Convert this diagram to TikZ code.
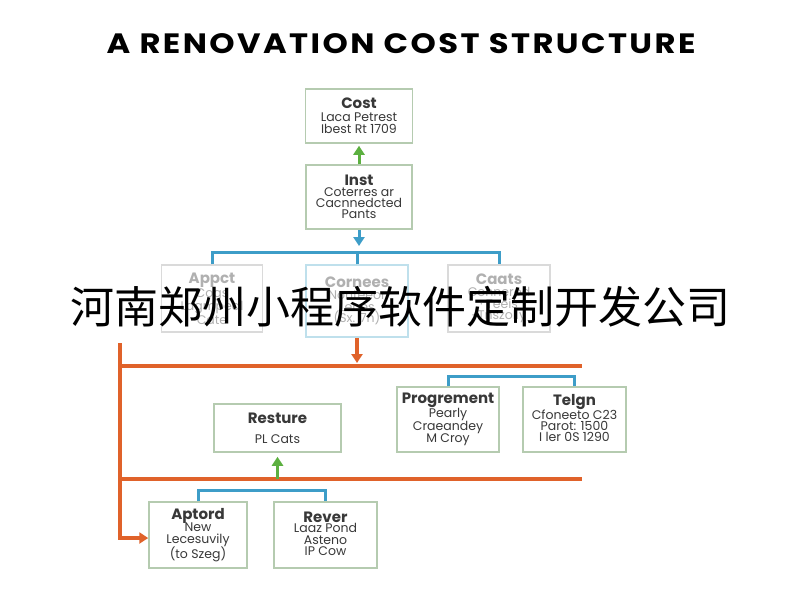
\documentclass[tikz,border=0pt]{standalone}
\usepackage{fontspec}
\setmainfont{Poppins}
\newfontfamily\headfont{Poppins}
\newfontfamily\titlefont[LetterSpace=7.5]{Poppins}
\newfontfamily\cjkfont{Noto Sans CJK SC}
\usetikzlibrary{arrows.meta}
\definecolor{cblue}{HTML}{3D9DC8}
\definecolor{corange}{HTML}{E0622A}
\definecolor{cgreen}{HTML}{5CB040}
\definecolor{cborder}{HTML}{B5CBB0}
\definecolor{cfade}{HTML}{DADADA}
\definecolor{cfadeblue}{HTML}{BFE0EC}
\definecolor{cfadetext}{HTML}{B0B0B0}
\tikzset{
  box/.style={draw=cborder, line width=1.5pt, fill=white, align=center, inner sep=0pt,
    font=\fontsize{12.5}{11.8}\selectfont, text=black!78},
  fadebox/.style={box, draw=cfade, text=cfadetext},
  blueline/.style={draw=cblue, line width=3pt},
  orangeline/.style={draw=corange, line width=3.3pt},
  bluearrow/.style={blueline, -{Triangle[length=9pt,width=11pt]}},
  orangearrow/.style={orangeline, -{Triangle[length=9pt,width=11pt]}},
  greenarrow/.style={draw=cgreen, line width=3pt, -{Triangle[length=9pt,width=11pt]}},
}
\newcommand{\bh}[1]{{\headfont\bfseries\fontsize{15}{15}\selectfont #1}}
\newcommand{\deepln}{\rule[-3pt]{0pt}{3pt}}
\begin{document}
\begin{tikzpicture}[x=1pt,y=-1pt]
\useasboundingbox (0,0) rectangle (800,600);
\fill[white] (0,0) rectangle (800,600);

\node (title) at (401,44) {\scalebox{1.15}[1]{\titlefont\bfseries\fontsize{28}{28}\selectfont A RENOVATION COST STRUCTURE}};

\node[box, minimum width=107pt, minimum height=54pt] (cost) at (359,116)
  {\bh{Cost}\\[1pt] Laca Petrest\\ Ibest Rt 1709};
\node[box, minimum width=106pt, minimum height=64pt] (inst) at (359,197)
  {\bh{Inst}\\[-1pt] Coterres ar\\[-0.5pt] Cacnnedcted\\[-0.5pt] Pants};

\node[fadebox, minimum width=101pt, minimum height=67pt] (appct) at (212,298.5)
  {\textcolor{cfadetext}{\bh{Appct}}\\ Cogs\\ Lagmpeal\\ Cate};
\node[fadebox, draw=cfadeblue, minimum width=102pt, minimum height=72pt] (cornees) at (357,301)
  {\textcolor{cfadetext}{\bh{Cornees}}\\ Nonteeor\\ Lenes\\ (Sx. 7n)};
\node[fadebox, minimum width=102pt, minimum height=67pt] (caats) at (499,298.5)
  {\textcolor{cfadetext}{\bh{Caats}}\\ Connerod\\ · Teeis\\ · Tnszolly};

\node[box, minimum width=127pt, minimum height=48pt] (resture) at (277.5,428)
  {\bh{Resture}\\[8pt] PL Cats};
\node[box, minimum width=102pt, minimum height=65pt] (prog) at (448,419.5)
  {\bh{Progrement}\\[-1pt] Pearly\\[-0.5pt] Craeandey\\[-0.5pt] M Croy};
\node[box, minimum width=103pt, minimum height=65pt] (telgn) at (574.5,419.5)
  {\bh{Telgn}\\[-1pt] Cfoneeto C23\\[-0.5pt] Parot: 1500\\[-0.5pt] I ler 0S 1290\deepln};
\node[box, minimum width=98pt, minimum height=66pt] (aptord) at (198,535)
  {\bh{Aptord}\\[-1pt] New\\[-0.5pt] Lecesuvily\\[-0.5pt] (to Szeg)};
\node[box, minimum width=103pt, minimum height=66pt] (rever) at (325.5,535)
  {\bh{Rever}\\[-1pt] Laaz Pond\\[-0.5pt] Asteno\\[-0.5pt] IP Cow\deepln};

% coordinates
\coordinate (bj) at (359,252);
\coordinate (o1L) at (120,366);
\coordinate (o1R) at (582,366);
\coordinate (o2L) at (120,479);
\coordinate (o2R) at (582,479);
\coordinate (oTop) at (120,343);
\coordinate (oBot) at (120,538);

% connectors
\draw[greenarrow, shorten >=2pt] (inst.north) -- (cost.south);
\draw[bluearrow, shorten >=6pt] (inst.south) -- (bj);
\draw[blueline] (appct.north) -- (appct.north |- bj) -- (caats.north |- bj) -- (caats.north);
\draw[blueline] (cornees.north) -- (cornees.north |- bj);
\draw[orangearrow, shorten >=3pt] (cornees.south) -- (cornees.south |- o1L);
\draw[orangeline] (o1L) -- (o1R);
\draw[orangeline] (o2L) -- (o2R);
\draw[orangearrow, line join=miter] (oTop) -- (oBot) -- (aptord.west |- oBot);
\draw[greenarrow, shorten >=4pt] (resture.south |- o2L) -- (resture.south);
\draw[blueline] (prog.north) -- ++(0,-10) -| (telgn.north);
\draw[blueline] (aptord.north) -- ++(0,-11) -| (rever.north);

% watermark
\node (wm) at (400,307) {\cjkfont\fontsize{44}{44}\selectfont 河南郑州小程序软件定制开发公司};
\end{tikzpicture}
\end{document}
